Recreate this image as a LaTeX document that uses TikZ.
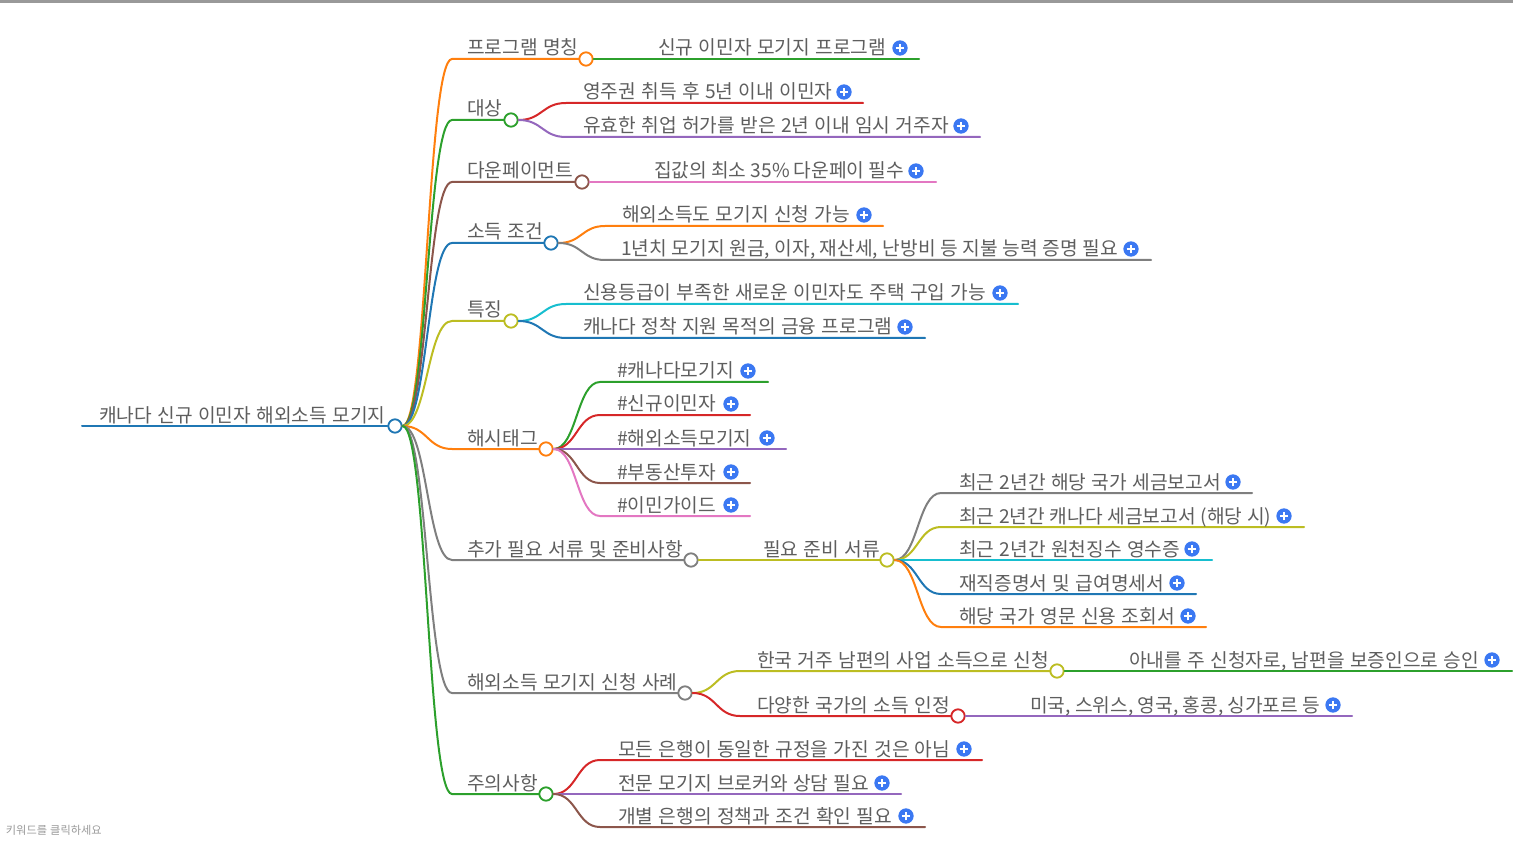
\documentclass[tikz,border=0pt]{standalone}
\usepackage{fontspec}
\setmainfont{Noto Sans CJK KR}[WordSpace=1.23]
\usetikzlibrary{calc}
\definecolor{cblue}{HTML}{1F77B4}
\definecolor{corange}{HTML}{FF7F0E}
\definecolor{cgreen}{HTML}{2CA02C}
\definecolor{cred}{HTML}{D62728}
\definecolor{cpurple}{HTML}{9467BD}
\definecolor{cbrown}{HTML}{8C564B}
\definecolor{cpink}{HTML}{E377C2}
\definecolor{cgray}{HTML}{7F7F7F}
\definecolor{colive}{HTML}{BCBD22}
\definecolor{ccyan}{HTML}{17BECF}
\definecolor{ctext}{HTML}{5E5E5E}
\definecolor{cplus}{HTML}{3B78F2}
\tikzset{
  x=0.75pt,y=-0.75pt,
  lnk/.style={line width=1.5pt,line cap=round},
  dotnode/.style={circle,draw=#1,fill=white,line width=1.4pt,minimum size=10pt,inner sep=0pt},
  lbl/.style={anchor=base west,inner sep=0pt,text=ctext,font=\fontsize{14.4}{16}\selectfont},
  plusicon/.style={circle,fill=cplus,minimum size=11.5pt,inner sep=0pt,
    path picture={\draw[white,line width=1.1pt]
      ([xshift=-3.2pt]path picture bounding box.center)--([xshift=3.2pt]path picture bounding box.center)
      ([yshift=-3.2pt]path picture bounding box.center)--([yshift=3.2pt]path picture bounding box.center);}},
}
% #1 name, #2 parent, #3 colour, #4 x start of straight part, #5 x end, #6 y, #7 text x, #8 text, #9 plus x
\newcommand\leafitem[9]{%
  \coordinate (#1s) at (#4,#6);
  \coordinate (#1) at (#5,#6);
  \draw[lnk,#3] let \p1=(#2.east),\p2=(#1s) in (#2.east)
    .. controls ({0.5*\x1+0.5*\x2},\y1) and ({0.5*\x1+0.5*\x2},\y2) .. (#1s) -- (#1);
  \node[lbl] (#1t) at (#7,#6-4) {#8};
  \node[plusicon] (#1p) at (#9,#6-11) {};
}
% #1 name, #2 parent, #3 colour, #4 x start, #5 dot x, #6 y, #7 text x, #8 text
\newcommand\dotitem[8]{%
  \coordinate (#1s) at (#4,#6);
  \draw[lnk,#3] let \p1=(#2.east),\p2=(#1s) in (#2.east)
    .. controls ({0.5*\x1+0.5*\x2},\y1) and ({0.5*\x1+0.5*\x2},\y2) .. (#1s) -- (#5,#6);
  \node[dotnode=#3] (#1) at (#5,#6) {};
  \node[lbl] (#1t) at (#7,#6-4) {#8};
}
\begin{document}
\begin{tikzpicture}
\useasboundingbox (0,0) rectangle (1513,848);
\fill[black!40] (0,0) rectangle (1513,3);
\node[anchor=base east,inner sep=0pt,text=black!40,font=\fontsize{8.4}{9}\selectfont] (hint) at (102,834) {키워드를 클릭하세요};
% root
\coordinate (roots) at (82,426);
\node[dotnode=cblue] (root) at (395,426) {};
\draw[lnk,cblue] (roots) -- (root);
\node[lbl] (roott) at (99,422) {캐나다 신규 이민자 해외소득 모기지};
% programme
\dotitem{a}{root}{corange}{452}{586}{59}{467}{프로그램 명칭}
\leafitem{a1}{a}{cgreen}{640}{919}{59}{658}{신규 이민자 모기지 프로그램}{900}
% target
\dotitem{b}{root}{cgreen}{452}{511}{120}{467}{대상}
\leafitem{b1}{b}{cred}{566}{863}{103}{583}{영주권 취득 후 5년 이내 이민자}{844}
\leafitem{b2}{b}{cpurple}{566}{980}{137}{583}{유효한 취업 허가를 받은 2년 이내 임시 거주자}{961}
% down payment
\dotitem{c}{root}{cbrown}{452}{582}{182}{467}{다운페이먼트}
\leafitem{c1}{c}{cpink}{636}{936}{182}{654}{\spaceskip=3.05pt 집값의 최소 35\% 다운페이 필수}{916}
% income
\dotitem{d}{root}{cblue}{452}{551}{243}{467}{소득 조건}
\leafitem{d1}{d}{corange}{605}{883}{226}{622}{해외소득도 모기지 신청 가능}{864}
\leafitem{d2}{d}{cgray}{605}{1151}{260}{621}{\spaceskip=3.45pt 1년치 모기지 원금, 이자, 재산세, 난방비 등 지불 능력 증명 필요}{1131}
% features
\dotitem{e}{root}{colive}{452}{511}{321}{467}{특징}
\leafitem{e1}{e}{ccyan}{566}{1018}{304}{583}{신용등급이 부족한 새로운 이민자도 주택 구입 가능}{1000}
\leafitem{e2}{e}{cblue}{566}{925}{338}{583}{캐나다 정착 지원 목적의 금융 프로그램}{905}
% hashtags
\dotitem{f}{root}{corange}{452}{546}{449}{467}{해시태그}
\leafitem{f1}{f}{cgreen}{600}{768}{382}{617}{\#캐나다모기지}{748}
\leafitem{f2}{f}{cred}{600}{750}{415}{617}{\#신규이민자}{731}
\leafitem{f3}{f}{cpurple}{600}{786}{449}{617}{\#해외소득모기지}{767}
\leafitem{f4}{f}{cbrown}{600}{750}{483}{617}{\#부동산투자}{731}
\leafitem{f5}{f}{cpink}{600}{750}{516}{617}{\#이민가이드}{731}
% documents
\dotitem{g}{root}{cgray}{452}{691}{560}{467}{추가 필요 서류 및 준비사항}
\dotitem{h}{g}{colive}{745}{887}{560}{763}{필요 준비 서류}
\leafitem{h1}{h}{cgray}{941}{1252}{493}{959}{최근 2년간 해당 국가 세금보고서}{1233}
\leafitem{h2}{h}{colive}{941}{1304}{527}{959}{\spaceskip=3.5pt 최근 2년간 캐나다 세금보고서 (해당 시)}{1284}
\leafitem{h3}{h}{ccyan}{941}{1212}{560}{959}{최근 2년간 원천징수 영수증}{1192}
\leafitem{h4}{h}{cblue}{941}{1196}{594}{959}{재직증명서 및 급여명세서}{1177}
\leafitem{h5}{h}{corange}{941}{1206}{627}{959}{해당 국가 영문 신용 조회서}{1188}
% cases
\dotitem{i}{root}{cgray}{452}{685}{693}{467}{해외소득 모기지 신청 사례}
\dotitem{j}{i}{colive}{740}{1057}{671}{757}{한국 거주 남편의 사업 소득으로 신청}
\leafitem{j1}{j}{cgreen}{1111}{1512}{671}{1129}{아내를 주 신청자로, 남편을 보증인으로 승인}{1492}
\dotitem{k}{i}{cred}{740}{958}{716}{757}{다양한 국가의 소득 인정}
\leafitem{k1}{k}{cpurple}{1012}{1352}{716}{1030}{\spaceskip=3.2pt 미국, 스위스, 영국, 홍콩, 싱가포르 등}{1333}
% caution
\dotitem{l}{root}{cgreen}{452}{546}{794}{467}{주의사항}
\leafitem{l1}{l}{cred}{600}{982}{760}{618}{모든 은행이 동일한 규정을 가진 것은 아님}{964}
\leafitem{l2}{l}{cpurple}{600}{901}{794}{618}{전문 모기지 브로커와 상담 필요}{882}
\leafitem{l3}{l}{cbrown}{600}{925}{827}{618}{개별 은행의 정책과 조건 확인 필요}{906}
\end{tikzpicture}
\end{document}
